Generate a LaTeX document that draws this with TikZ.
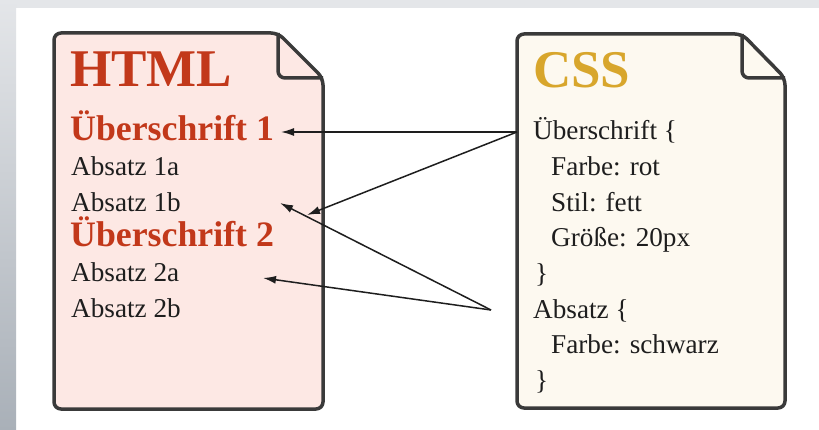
\documentclass[tikz,border=0pt]{standalone}
\usepackage{fontspec}
\setmainfont{Liberation Serif}
\usetikzlibrary{arrows.meta}

\definecolor{htmlred}{HTML}{C2381A}
\definecolor{cssgold}{HTML}{D8A62C}
\definecolor{htmlfill}{HTML}{FDE8E4}
\definecolor{cssfill}{HTML}{FDF9F0}
\definecolor{docline}{HTML}{3A3A3A}
\definecolor{ink}{HTML}{1E1E1E}
\definecolor{bandtop}{HTML}{E4E6E9}
\definecolor{bandbottom}{HTML}{A9B0B8}

\begin{document}
\begin{tikzpicture}[x=1pt,y=-1pt,
  doc/.style={draw=docline, line width=3.5pt, rounded corners=7pt, line join=round},
  title/.style={anchor=base west, inner sep=0pt, font=\fontsize{53}{53}\selectfont\bfseries},
  heading/.style={anchor=base west, inner sep=0pt, text=htmlred, font=\fontsize{35.8}{36}\selectfont\bfseries},
  body/.style={anchor=base west, inner sep=0pt, text=ink, font=\fontsize{27.2}{27}\selectfont},
  link/.style={draw=ink, line width=1.5pt, -{Latex[length=13pt,width=8pt]}},
]
% page background with the grey bands at the top and left
\useasboundingbox (0,0) rectangle (819,430);
\fill[white] (0,0) rectangle (819,430);
\fill[bandtop] (0,0) rectangle (819,8);
\shade[top color=bandtop, bottom color=bandbottom] (0,0) rectangle (16,430);

% HTML document sheet with folded corner
\path[doc, fill=htmlfill] (54,33) -- (278,33) -- (323,78) -- (323,409) -- (54,409) -- cycle;
\draw[doc] (278,33) -- (278,78) -- (323,78);

% CSS document sheet with folded corner
\path[doc, fill=cssfill] (517,34) -- (742,34) -- (785,78) -- (785,408) -- (517,408) -- cycle;
\draw[doc] (742,34) -- (742,78) -- (785,78);

% HTML content
\node[title, text=htmlred] (htmltitle) at (70,87) {HTML};
\node[heading] (h1) at (70,141) {Überschrift 1};
\node[body] (p1a) at (71,176) {Absatz 1a};
\node[body] (p1b) at (71,212) {Absatz 1b};
\node[heading] (h2) at (70,247) {Überschrift 2};
\node[body] (p2a) at (71,282) {Absatz 2a};
\node[body] (p2b) at (71,317) {Absatz 2b};

% CSS content
\node[title, text=cssgold] (csstitle) at (533,88) {CSS};
\node[body] (rule1) at (533,140) {Überschrift \{};
\node[body] (r1a) at (551,176) {Farbe: rot};
\node[body] (r1b) at (551,212) {Stil: fett};
\node[body] (r1c) at (551,247) {Größe: 20px};
\node[body] (r1end) at (535,283) {\}};
\node[body] (rule2) at (533,318) {Absatz \{};
\node[body] (r2a) at (551,353) {Farbe: schwarz};
\node[body] (r2end) at (535,389) {\}};

% connector ends
\coordinate (fromHeading) at (517,132);
\coordinate (fromPara) at (491,310);
\coordinate (toH1) at (281,132);
\coordinate (toH2) at (307,215);
\coordinate (toP1b) at (280,203);
\coordinate (toP2a) at (263,278);

% rules pointing at the elements they style
\draw[link] (fromHeading) -- (toH1);
\draw[link] (fromHeading) -- (toH2);
\draw[link] (fromPara) -- (toP1b);
\draw[link] (fromPara) -- (toP2a);
\end{tikzpicture}
\end{document}
